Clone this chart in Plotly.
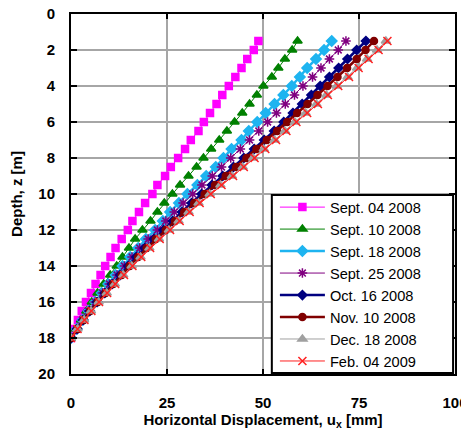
import plotly.graph_objects as go

depth = [1.5, 2.0, 2.5, 3.0, 3.5, 4.0, 4.5, 5.0, 5.5, 6.0, 6.5, 7.0, 7.5, 8.0, 8.5, 9.0,
         9.5, 10.0, 10.5, 11.0, 11.5, 12.0, 12.5, 13.0, 13.5, 14.0, 14.5, 15.0, 15.5,
         16.0, 16.5, 17.0, 17.5, 18.0]

sep04 = [48.8, 47.6, 45.9, 44.4, 42.8, 41.1, 39.4, 37.9, 36.2, 34.6, 33.2, 31.2, 29.7, 27.9,
         26.0, 24.5, 22.5, 21.2, 19.3, 17.7, 16.0, 14.8, 13.2, 11.6, 10.3, 8.9, 7.7, 6.4,
         5.2, 3.9, 2.8, 1.8, 0.9, 0.0]
sep10 = [59.0, 57.6, 55.7, 54.0, 52.3, 50.1, 48.4, 46.5, 44.6, 42.6, 40.6, 38.6, 36.5, 34.5,
         32.7, 30.6, 28.4, 26.4, 24.3, 22.5, 20.7, 18.6, 16.7, 15.1, 13.4, 11.9, 10.2, 8.5,
         6.9, 5.4, 4.0, 2.6, 1.3, 0.0]
sep18 = [67.9, 65.9, 63.8, 61.5, 59.6, 57.5, 55.3, 53.0, 50.7, 48.5, 46.3, 44.4, 41.8, 39.7,
         37.7, 35.2, 32.9, 30.3, 28.1, 25.8, 23.9, 21.9, 19.5, 17.5, 15.4, 13.4, 11.6, 9.7,
         8.0, 6.3, 4.6, 3.0, 1.5, 0.0]
sep25 = [71.6, 69.6, 67.3, 65.1, 62.9, 60.4, 58.2, 55.8, 53.5, 51.2, 48.9, 46.5, 44.1, 41.6,
         39.2, 36.8, 34.1, 31.7, 29.2, 26.9, 24.7, 22.5, 20.1, 17.9, 15.9, 13.9, 12.0, 10.0,
         8.2, 6.3, 4.6, 3.0, 1.5, 0.0]
oct16 = [76.8, 74.4, 72.0, 69.7, 67.3, 64.9, 62.6, 60.2, 57.8, 55.4, 52.9, 50.3, 47.7, 45.0,
         42.3, 39.5, 36.7, 34.0, 31.4, 28.9, 26.5, 24.1, 21.6, 19.2, 17.0, 14.9, 12.8, 10.7,
         8.8, 6.8, 4.9, 3.2, 1.6, 0.0]
nov10 = [78.9, 76.7, 74.4, 71.9, 69.4, 66.8, 64.2, 61.6, 58.9, 56.3, 53.7, 51.0, 48.3, 45.7,
         43.0, 40.3, 37.5, 34.8, 32.1, 29.5, 27.1, 24.7, 22.1, 19.7, 17.5, 15.3, 13.2, 11.0,
         9.0, 7.0, 5.0, 3.3, 1.7, 0.0]
dec18 = [82.0, 79.7, 77.1, 74.5, 72.0, 69.2, 66.5, 63.9, 61.1, 58.3, 55.7, 53.0, 50.2, 47.4,
         44.7, 41.9, 38.9, 36.1, 33.2, 30.6, 28.0, 25.5, 22.9, 20.4, 18.1, 15.8, 13.6, 11.4,
         9.3, 7.2, 5.2, 3.4, 1.7, 0.0]
feb04 = [82.4, 80.1, 77.5, 74.9, 72.4, 69.6, 66.9, 64.3, 61.5, 58.7, 56.1, 53.4, 50.6, 47.8,
         45.0, 42.2, 39.2, 36.4, 33.5, 30.9, 28.3, 25.8, 23.1, 20.6, 18.3, 16.0, 13.8, 11.5,
         9.4, 7.3, 5.3, 3.5, 1.7, 0.0]

series_names = ["Sept. 04 2008", "Sept. 10 2008", "Sept. 18 2008", "Sept. 25 2008",
                "Oct. 16 2008", "Nov. 10 2008", "Dec. 18 2008", "Feb. 04 2009"]
series_values = [sep04, sep10, sep18, sep25, oct16, nov10, dec18, feb04]

styles = [
    dict(color="#FF00FF", symbol="square", size=7, lw=1),
    dict(color="#008000", symbol="triangle-up", size=8, lw=1),
    dict(color="#1EB4F0", symbol="diamond", size=8, lw=2.5),
    dict(color="#800080", symbol="asterisk-open", size=8, lw=1),
    dict(color="#000080", symbol="diamond", size=7, lw=2.5),
    dict(color="#800000", symbol="circle", size=7, lw=2.5),
    dict(color="#A0A0A0", symbol="triangle-up", size=8, lw=1),
    dict(color="#FF2020", symbol="x-thin-open", size=8, lw=1),
]

fig = go.Figure()
for name, vals, st in zip(series_names, series_values, styles):
    fig.add_trace(go.Scatter(
        x=vals, y=depth, name=name, mode="lines+markers",
        line=dict(color=st["color"], width=st["lw"]),
        marker=dict(symbol=st["symbol"], size=st["size"], color=st["color"],
                    line=dict(color=st["color"], width=1.5)),
    ))

font_family = "Liberation Sans, Arial, sans-serif"

# legend frame drawn as a shape (white box with black border)
fig.add_shape(type="rect", xref="paper", yref="paper",
              x0=0.523, x1=0.995, y0=0.003, y1=0.497,
              fillcolor="white", line=dict(color="black", width=2), layer="above")

# page body adds an 8px offset; margins compensate so the plot lands where the reference has it
fig.update_layout(
    width=469, height=438,
    margin=dict(l=63, r=22, t=6, b=72, pad=0, autoexpand=False),
    plot_bgcolor="white", paper_bgcolor="white",
    font=dict(family=font_family, color="black", size=14),
    showlegend=True,
    legend=dict(
        x=0.531, y=0.508, xanchor="left", yanchor="top",
        bgcolor="rgba(0,0,0,0)", borderwidth=0,
        font=dict(size=14.6, family=font_family, color="black"),
        itemwidth=45, tracegroupgap=0,
    ),
    xaxis=dict(
        range=[0, 100], dtick=25, tick0=0, automargin=False,
        showgrid=True, gridcolor="#A6A6A6", gridwidth=2,
        showline=True, linecolor="black", linewidth=2, mirror="ticks",
        ticks="inside", ticklen=5, tickcolor="black", tickwidth=2,
        zeroline=False, ticklabeloverflow="allow",
        tickfont=dict(size=15, weight="bold"),
        ticklabelstandoff=14,
        title=dict(text="Horizontal Displacement, u<sub>x</sub> [mm]",
                   font=dict(size=15, weight="bold"), standoff=0),
    ),
    yaxis=dict(
        range=[20, 0], dtick=2, tick0=0, automargin=False,
        showgrid=True, gridcolor="#A6A6A6", gridwidth=2,
        showline=True, linecolor="black", linewidth=2, mirror="ticks",
        ticks="inside", ticklen=6, tickcolor="black", tickwidth=2,
        zeroline=False, ticklabeloverflow="allow",
        tickfont=dict(size=15, weight="bold"),
        ticklabelstandoff=11,
        title=dict(text="Depth, z [m]", font=dict(size=15, weight="bold"), standoff=16),
    ),
)

fig.write_html("out.html")
